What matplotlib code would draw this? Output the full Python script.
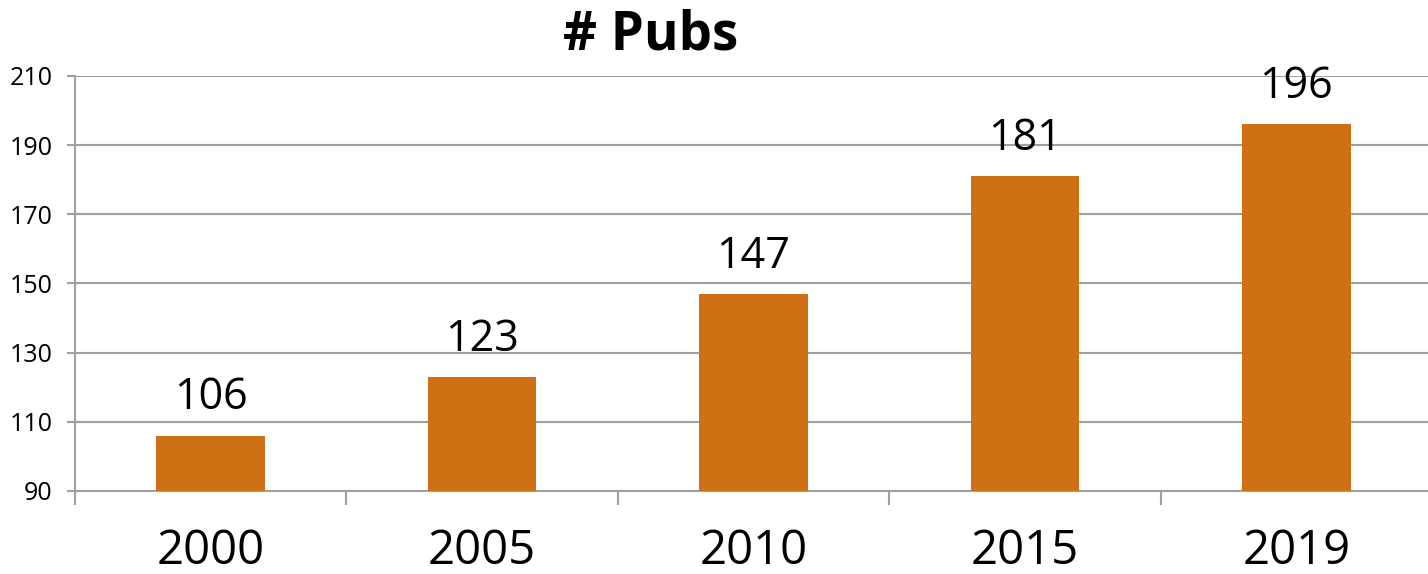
import matplotlib
matplotlib.use("Agg")
import matplotlib.pyplot as plt
import numpy as np

years = ["2000", "2005", "2010", "2015", "2019"]
pubs = [106, 123, 147, 181, 196]
y_ticks = [90, 110, 130, 150, 170, 190, 210]

plt.rcParams['font.family'] = ['Open Sans', 'DejaVu Sans']

fig = plt.figure(figsize=(14.28, 5.74), dpi=100)
ax = fig.add_axes([75 / 1428, 1 - 491 / 574, 1357 / 1428, 415 / 574])

x = np.arange(len(years))
bars = ax.bar(x, pubs, width=0.4, color="#D07014", zorder=3)

for xi, v in zip(x, pubs):
    ax.annotate(str(v), (xi, v), xytext=(0, 11), textcoords="offset points",
                ha="center", va="bottom", fontsize=31, color="black")

ax.set_ylim(90, 210)
ax.set_xlim(-0.5, len(years) - 0.5)
ax.set_yticks(y_ticks)
ax.tick_params(axis="y", labelsize=18, length=6, width=1.5, color="#A0A0A0", pad=10)
ax.grid(axis="y", color="#A0A0A0", linewidth=1.5, zorder=0)

# category boundaries as ticks, labels at centers
ax.set_xticks(np.arange(-0.5, len(years)), labels=[""] * (len(years) + 1))
ax.tick_params(axis="x", which="major", length=10, width=1.5, color="#A0A0A0")
ax.set_xticks(x, labels=years, minor=True)
ax.tick_params(axis="x", which="minor", length=0, labelsize=34, pad=26)

for s in ["top", "right"]:
    ax.spines[s].set_visible(False)
for s in ["left", "bottom"]:
    ax.spines[s].set_color("#A0A0A0")
    ax.spines[s].set_linewidth(1.5)

fig.text(651 / 1428, 1 - 36 / 574, "# Pubs", ha="center", va="center",
         fontsize=38, fontweight="bold")

fig.savefig("out.png", dpi=100)
